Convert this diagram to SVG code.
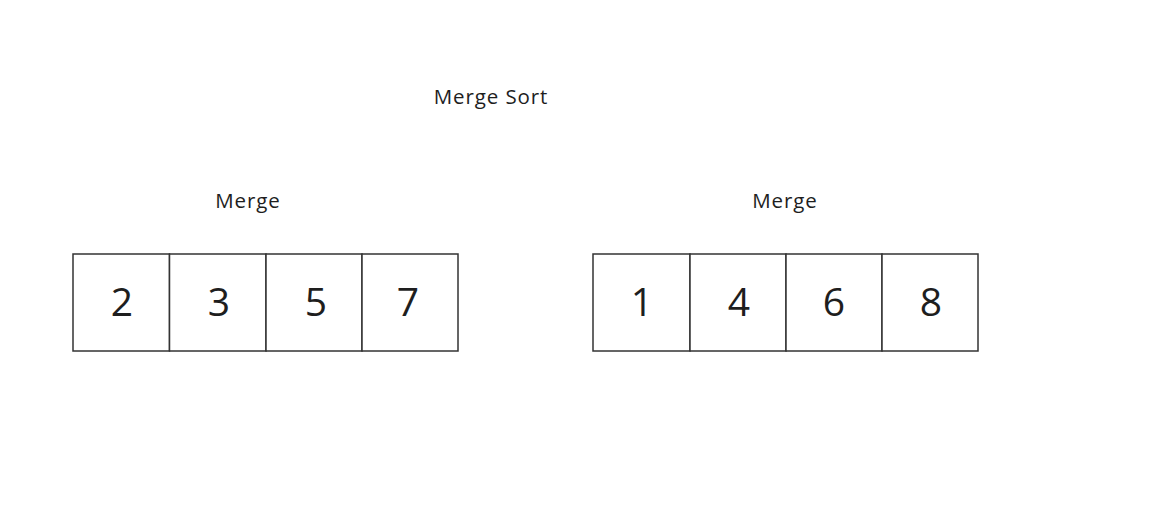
<svg xmlns="http://www.w3.org/2000/svg" width="1150" height="509" viewBox="0 0 1150 509">
<style>
.cell{fill:#fff;stroke:#333;stroke-width:1.5}
.num{font-family:"Open Sans","Liberation Sans",sans-serif;font-size:39px;fill:#1e1e1e;text-anchor:middle}
.lbl{font-family:"Open Sans","Liberation Sans",sans-serif;font-size:20.5px;letter-spacing:0.9px;fill:#1e1e1e;text-anchor:middle}
</style>
<rect width="1150" height="509" fill="#fff"/>
<text id="title" class="lbl" x="491" y="104">Merge Sort</text>
<text id="label-left" class="lbl" x="248" y="208">Merge</text>
<text id="label-right" class="lbl" x="785" y="208">Merge</text>
<g id="left-array">
<g id="l0"><rect class="cell" x="73" y="254" width="96.5" height="97"/><text class="num" x="122" y="316">2</text></g>
<g id="l1"><rect class="cell" x="169.5" y="254" width="96.5" height="97"/><text class="num" x="219" y="316">3</text></g>
<g id="l2"><rect class="cell" x="266" y="254" width="96" height="97"/><text class="num" x="316" y="316">5</text></g>
<g id="l3"><rect class="cell" x="362" y="254" width="96" height="97"/><text class="num" x="408" y="316">7</text></g>
</g>
<g id="right-array">
<g id="r0"><rect class="cell" x="593" y="254" width="97" height="97"/><text class="num" x="642" y="316">1</text></g>
<g id="r1"><rect class="cell" x="690" y="254" width="96" height="97"/><text class="num" x="739" y="316">4</text></g>
<g id="r2"><rect class="cell" x="786" y="254" width="96" height="97"/><text class="num" x="834" y="316">6</text></g>
<g id="r3"><rect class="cell" x="882" y="254" width="96" height="97"/><text class="num" x="931" y="316">8</text></g>
</g>
<g id="connectors"></g>
</svg>
